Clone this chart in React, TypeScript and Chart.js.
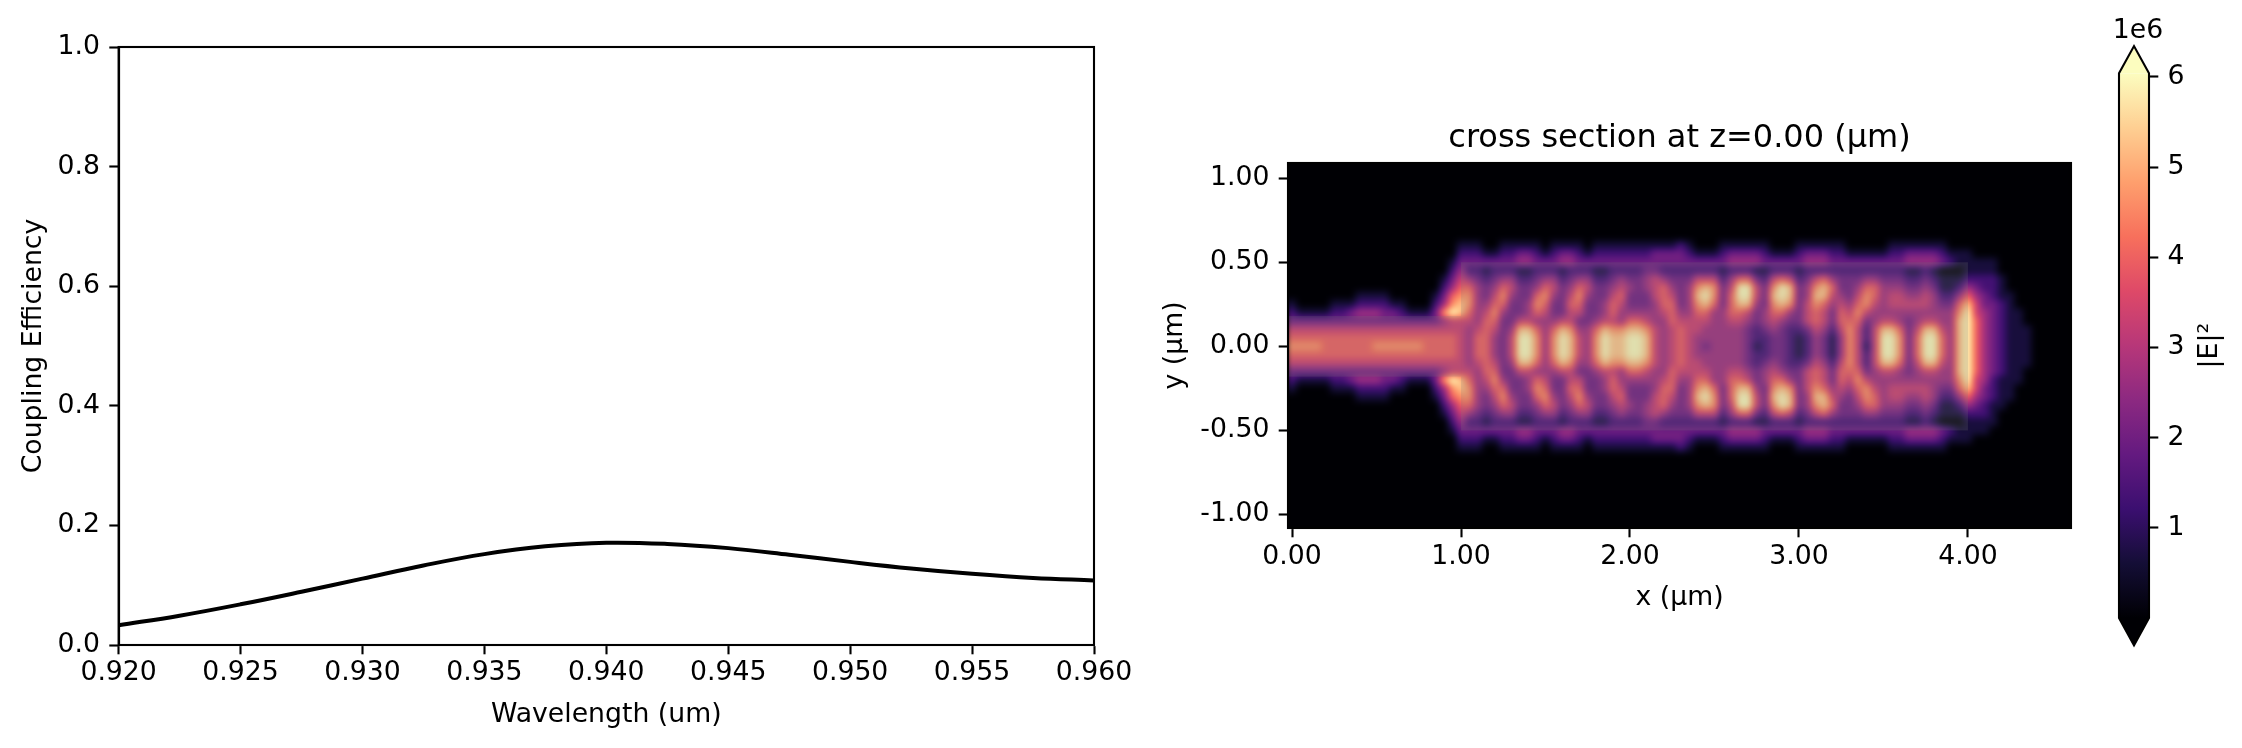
import { useEffect, useRef } from "react";
import { Chart, registerables } from "chart.js";

Chart.register(...registerables);

const FONT = "DejaVu Sans";
const TICK_PX = 26.7;
const TITLE_PX = 32;
const TICK_LEN = 9.3;
const SPINE_W = 2.1;

// coupling efficiency spectrum
const wavelengths = [
  0.92, 0.9225, 0.925, 0.9275, 0.93, 0.9325, 0.935, 0.9375, 0.94, 0.9425, 0.945, 0.9475, 0.95, 0.9525,
  0.955, 0.9575, 0.96,
];
const efficiency = [
  0.033, 0.049, 0.068, 0.089, 0.111, 0.133, 0.152, 0.165, 0.171, 0.169, 0.162, 0.151, 0.139, 0.128, 0.119,
  0.112, 0.108,
];
const wavelengthTicks = [0.92, 0.925, 0.93, 0.935, 0.94, 0.945, 0.95, 0.955, 0.96];
const efficiencyTicks = [0, 0.2, 0.4, 0.6, 0.8, 1.0];

// |E|^2 cross section, one string per x column (x = 0.00 .. 4.60 step 0.05 um).
// each string is centred on y = 0 (step 0.05 um), black (0) beyond its ends.
// one digit = 0.667e6
const fieldX0 = 0;
const fieldDX = 0.05;
const fieldDY = 0.05;
const fieldRows = 43;
const fieldUnit = 6e6 / 9;
const fieldColumns = [
  "12356765321",
  "135676531",
  "135676531",
  "135676531",
  "135666531",
  "12356665321",
  "12356665321",
  "13356665331",
  "1243566653421",
  "1243566653421",
  "1243567653421",
  "1233567653321",
  "13356765331",
  "12356765321",
  "135676531",
  "135676531",
  "135666531",
  "1233566653321",
  "12347456665474321",
  "123467955666559764321",
  "1234567885555555887654321",
  "1232467765444445677642321",
  "1232344444566654444432321",
  "13123345666666654332131",
  "13234567654445676543231",
  "1232467643333333467642321",
  "1232454333455543334542321",
  "1341233335899985333321431",
  "1341233445899985443321431",
  "1232346764677764676432321",
  "13246765444444456764231",
  "1232454334677764334542321",
  "1341233335899985333321431",
  "1342345655788875565432431",
  "1232467653455543567642321",
  "13245433344444333454231",
  "1231233334677764333321321",
  "1231233445899985443321321",
  "1232345665788875665432321",
  "1232456544788874456542321",
  "1232343346899986433432321",
  "1232333346899986433332321",
  "1233443345788875433443321",
  "1333555444555554445553331",
  "1332466654444444566642331",
  "1332345666555556665432331",
  "2332333345666665433332332",
  "1232344445555555444432321",
  "13257876554445567875231",
  "13258986544344568985231",
  "13257764444444446775231",
  "1231233344444444433321321",
  "1342456665444445666542431",
  "1342699865444445689962431",
  "1342699854333334589962431",
  "1341355433221223345531431",
  "1231233344322234433321321",
  "13257876543334567875231",
  "13269986433333468996231",
  "13258874322222347885231",
  "1231233333211123333321321",
  "1342344555322235554432431",
  "1342578766544456678752431",
  "1342688655433345568862431",
  "1232465433211123345642321",
  "1232334566544456654332321",
  "13233345677777654333231",
  "13234567655555676543231",
  "13246775322122357764231",
  "13246654455555445664231",
  "13234444589998544443231",
  "1232345545899985455432321",
  "1232345544677764455432321",
  "1341234543333333454321431",
  "1341234544566654454321431",
  "1342345545899985455432431",
  "1341234445899985444321431",
  "1230112344566654432110321",
  "12011234444444443211021",
  "11012467888888876421011",
  "11124689999999998642111",
  "112345566666665543211",
  "112233444444444332211",
  "11222333333333222111",
  "1112222222221111",
  "1111111111111",
  "111111111",
  "11111",
  "0",
  "0",
  "0",
  "0",
  "0",
  "0",
];
const fieldXTicks = [0, 1, 2, 3, 4];
const fieldYTicks = [-1, -0.5, 0, 0.5, 1];
const colorbarTicks = [1e6, 2e6, 3e6, 4e6, 5e6, 6e6];
const fieldVmin = 0;
const fieldVmax = 6.04e6;
const fieldTitle = "cross section at z=0.00 (μm)";

// structure drawn over the field (um)
const waveguide = { x0: -1, x1: 1, half: 0.18 };
const mmi = { x0: 1, x1: 4, half: 0.5 };

const MAGMA = [
  "#000004", "#140e36", "#3b0f70", "#641a80", "#8c2981", "#b73779",
  "#de4968", "#f7705c", "#fe9f6d", "#fecf92", "#fcfdbf",
];
const MAGMA_RGB = MAGMA.map((h) => [1, 3, 5].map((k) => parseInt(h.slice(k, k + 2), 16)));

function magma(t: number) {
  const c = Math.max(0, Math.min(1, t)) * (MAGMA_RGB.length - 1);
  const i = Math.min(MAGMA_RGB.length - 2, Math.floor(c));
  const u = c - i;
  return MAGMA_RGB[i].map((v, k) => Math.round(v + (MAGMA_RGB[i + 1][k] - v) * u));
}

const centred = (s: string) => {
  const pad = Math.floor((fieldRows - s.length) / 2);
  return ("0".repeat(pad) + s).padEnd(fieldRows, "0");
};

// values[i][j]: column i (x), row j (top to bottom)
const fieldValues = () => fieldColumns.map((s) => Array.from(centred(s), (ch) => Number(ch) * fieldUnit));

const tickFont = { family: FONT, size: TICK_PX };
const tickGrid = {
  drawOnChartArea: false,
  drawTicks: true,
  tickLength: TICK_LEN,
  tickWidth: SPINE_W,
  tickColor: "#000",
};
const spineBorder = { display: true, color: "#000", width: SPINE_W };

const framePlugin = {
  id: "frame",
  afterDraw(c: any) {
    const { ctx, chartArea: a } = c;
    ctx.save();
    ctx.strokeStyle = "#000";
    ctx.lineWidth = SPINE_W;
    ctx.strokeRect(a.left, a.top, a.right - a.left, a.bottom - a.top);
    ctx.restore();
  },
};

export default function App() {
  const lineRef = useRef<HTMLCanvasElement | null>(null);
  const fieldRef = useRef<HTMLCanvasElement | null>(null);
  const barRef = useRef<HTMLCanvasElement | null>(null);

  useEffect(() => {
    if (!lineRef.current || !fieldRef.current || !barRef.current) return;
    Chart.defaults.font.family = FONT;
    Chart.defaults.color = "#000";

    const spectrum = new Chart(lineRef.current, {
      type: "line",
      data: {
        datasets: [
          {
            data: wavelengths.map((w, i) => ({ x: w, y: efficiency[i] })),
            borderColor: "#000",
            borderWidth: 4,
            pointRadius: 0,
            tension: 0.4,
            fill: false,
          },
        ],
      },
      options: {
        animation: false,
        responsive: false,
        devicePixelRatio: 1,
        events: [],
        layout: { padding: { top: 47, right: 56, bottom: 0, left: 0 } },
        plugins: { legend: { display: false }, tooltip: { enabled: false } },
        scales: {
          x: {
            type: "linear",
            min: 0.92,
            max: 0.96,
            afterFit: (s: any) => {
              s.height = 103;
            },
            afterBuildTicks: (s: any) => {
              s.ticks = wavelengthTicks.map((value) => ({ value }));
            },
            ticks: {
              font: tickFont,
              color: "#000",
              padding: 3,
              autoSkip: false,
              maxRotation: 0,
              callback: (v: any) => Number(v).toFixed(3),
            },
            grid: tickGrid,
            border: spineBorder,
            title: {
              display: true,
              text: "Wavelength (um)",
              font: tickFont,
              color: "#000",
              padding: { top: 0, bottom: 17 },
            },
          },
          y: {
            type: "linear",
            min: 0,
            max: 1,
            afterFit: (s: any) => {
              s.width = 118.6;
            },
            afterBuildTicks: (s: any) => {
              s.ticks = efficiencyTicks.map((value) => ({ value }));
            },
            ticks: {
              font: tickFont,
              color: "#000",
              padding: TICK_LEN,
              callback: (v: any) => Number(v).toFixed(1),
            },
            grid: tickGrid,
            border: spineBorder,
            title: {
              display: true,
              text: "Coupling Efficiency",
              font: tickFont,
              color: "#000",
              padding: { top: 18, bottom: 0 },
            },
          },
        },
      },
      plugins: [framePlugin],
    } as any);

    const values = fieldValues();
    const fieldPlugin = {
      id: "fieldImage",
      beforeDatasetsDraw(c: any) {
        const { ctx, chartArea: a, scales } = c;
        const x = scales.x;
        const y = scales.y;
        const w = Math.round(a.right - a.left);
        const h = Math.round(a.bottom - a.top);
        const nC = values.length;
        const yTop = ((fieldRows - 1) / 2) * fieldDY;
        // fractional grid index for each pixel column / row
        const fi = Array.from({ length: w }, (_, p) => {
          const xv = x.getValueForPixel(a.left + p + 0.5);
          return Math.max(0, Math.min(nC - 1, (xv - fieldX0) / fieldDX));
        });
        const fj = Array.from({ length: h }, (_, p) => {
          const yv = y.getValueForPixel(a.top + p + 0.5);
          return Math.max(0, Math.min(fieldRows - 1, (yTop - yv) / fieldDY));
        });
        const off = document.createElement("canvas");
        off.width = w;
        off.height = h;
        const g = off.getContext("2d")!;
        const img = g.createImageData(w, h);
        for (let py = 0; py < h; py++) {
          const j0 = Math.floor(fj[py]);
          const j1 = Math.min(fieldRows - 1, j0 + 1);
          const v = fj[py] - j0;
          for (let px = 0; px < w; px++) {
            const i0 = Math.floor(fi[px]);
            const i1 = Math.min(nC - 1, i0 + 1);
            const u = fi[px] - i0;
            const val =
              (values[i0][j0] * (1 - u) + values[i1][j0] * u) * (1 - v) +
              (values[i0][j1] * (1 - u) + values[i1][j1] * u) * v;
            const [r, gg, b] = magma((val - fieldVmin) / (fieldVmax - fieldVmin));
            const o = (py * w + px) * 4;
            img.data[o] = r;
            img.data[o + 1] = gg;
            img.data[o + 2] = b;
            img.data[o + 3] = 255;
          }
        }
        g.putImageData(img, 0, 0);

        ctx.save();
        ctx.beginPath();
        ctx.rect(a.left, a.top, a.right - a.left, a.bottom - a.top);
        ctx.clip();
        ctx.fillStyle = MAGMA[0];
        ctx.fillRect(a.left, a.top, a.right - a.left, a.bottom - a.top);
        ctx.filter = "blur(2.5px)";
        ctx.drawImage(off, a.left, a.top);
        ctx.filter = "none";
        ctx.fillStyle = "rgba(125,125,125,0.21)";
        for (const s of [waveguide, mmi]) {
          const x0 = x.getPixelForValue(s.x0);
          const x1 = x.getPixelForValue(s.x1);
          const y0 = y.getPixelForValue(s.half);
          const y1 = y.getPixelForValue(-s.half);
          ctx.fillRect(x0, y0, x1 - x0, y1 - y0);
        }
        ctx.restore();
      },
      afterDraw(c: any) {
        const { ctx, chartArea: a } = c;
        ctx.save();
        ctx.fillStyle = "#000";
        ctx.font = `${TITLE_PX}px "${FONT}"`;
        ctx.textAlign = "center";
        ctx.textBaseline = "middle";
        ctx.fillText(fieldTitle, (a.left + a.right) / 2, a.top - 24);
        ctx.restore();
      },
    };

    const field = new Chart(fieldRef.current, {
      type: "scatter",
      data: { datasets: [] },
      options: {
        animation: false,
        responsive: false,
        devicePixelRatio: 1,
        events: [],
        layout: { padding: { top: 163, right: 9, bottom: 0, left: 0 } },
        plugins: { legend: { display: false }, tooltip: { enabled: false } },
        scales: {
          x: {
            type: "linear",
            min: -0.024,
            max: 4.61,
            afterFit: (s: any) => {
              s.height = 220;
            },
            afterBuildTicks: (s: any) => {
              s.ticks = fieldXTicks.map((value) => ({ value }));
            },
            ticks: {
              font: tickFont,
              color: "#000",
              padding: 4,
              autoSkip: false,
              maxRotation: 0,
              callback: (v: any) => Number(v).toFixed(2),
            },
            grid: tickGrid,
            border: spineBorder,
            title: {
              display: true,
              text: "x (μm)",
              font: tickFont,
              color: "#000",
              padding: { top: 0, bottom: 134 },
            },
          },
          y: {
            type: "linear",
            min: -1.08,
            max: 1.09,
            afterFit: (s: any) => {
              s.width = 148;
            },
            afterBuildTicks: (s: any) => {
              s.ticks = fieldYTicks.map((value) => ({ value }));
            },
            ticks: {
              font: tickFont,
              color: "#000",
              padding: TICK_LEN,
              callback: (v: any) => Number(v).toFixed(2),
            },
            grid: tickGrid,
            border: spineBorder,
            title: {
              display: true,
              text: "y (μm)",
              font: tickFont,
              color: "#000",
              padding: { top: 19, bottom: 0 },
            },
          },
        },
      },
      plugins: [fieldPlugin, framePlugin],
    } as any);

    const colorbarPlugin = {
      id: "colorbar",
      beforeDatasetsDraw(c: any) {
        const { ctx, chartArea: a, scales } = c;
        const y = scales.y;
        const y0 = y.getPixelForValue(fieldVmin);
        const y1 = y.getPixelForValue(fieldVmax);
        const ext = 0.05 * (y0 - y1);
        const mid = (a.left + a.right) / 2;
        ctx.save();
        const grad = ctx.createLinearGradient(0, y0, 0, y1);
        MAGMA.forEach((col, i) => grad.addColorStop(i / (MAGMA.length - 1), col));
        ctx.fillStyle = grad;
        ctx.fillRect(a.left, y1, a.right - a.left, y0 - y1);
        ctx.fillStyle = MAGMA[MAGMA.length - 1];
        ctx.beginPath();
        ctx.moveTo(a.left, y1);
        ctx.lineTo(mid, y1 - ext);
        ctx.lineTo(a.right, y1);
        ctx.closePath();
        ctx.fill();
        ctx.fillStyle = MAGMA[0];
        ctx.beginPath();
        ctx.moveTo(a.left, y0);
        ctx.lineTo(mid, y0 + ext);
        ctx.lineTo(a.right, y0);
        ctx.closePath();
        ctx.fill();

        ctx.strokeStyle = "#000";
        ctx.lineWidth = SPINE_W;
        ctx.lineJoin = "miter";
        ctx.beginPath();
        ctx.moveTo(a.left, y1);
        ctx.lineTo(mid, y1 - ext);
        ctx.lineTo(a.right, y1);
        ctx.lineTo(a.right, y0);
        ctx.lineTo(mid, y0 + ext);
        ctx.lineTo(a.left, y0);
        ctx.closePath();
        ctx.stroke();

        ctx.fillStyle = "#000";
        ctx.font = `${TICK_PX}px "${FONT}"`;
        ctx.textAlign = "center";
        ctx.textBaseline = "alphabetic";
        ctx.fillText("1e6", mid + 4, 38);

        ctx.translate(a.right + 61, (y0 + y1) / 2);
        ctx.rotate(-Math.PI / 2);
        ctx.textBaseline = "middle";
        ctx.fillText("|E|²", 0, 0);
        ctx.restore();
      },
    };

    const bar = new Chart(barRef.current, {
      type: "scatter",
      data: { datasets: [] },
      options: {
        animation: false,
        responsive: false,
        devicePixelRatio: 1,
        events: [],
        layout: { padding: { top: 73.3, right: 0, bottom: 130, left: 39 } },
        plugins: { legend: { display: false }, tooltip: { enabled: false } },
        scales: {
          x: { display: false, min: 0, max: 1 },
          y: {
            type: "linear",
            position: "right",
            min: fieldVmin,
            max: fieldVmax,
            afterFit: (s: any) => {
              s.width = 93;
            },
            afterBuildTicks: (s: any) => {
              s.ticks = colorbarTicks.map((value) => ({ value }));
            },
            ticks: {
              font: tickFont,
              color: "#000",
              padding: TICK_LEN,
              callback: (v: any) => String(Math.round(Number(v) / 1e6)),
            },
            grid: tickGrid,
            border: { display: false },
          },
        },
      },
      plugins: [colorbarPlugin],
    } as any);

    return () => {
      spectrum.destroy();
      field.destroy();
      bar.destroy();
    };
  }, []);

  return (
    <div style={{ position: "absolute", left: 0, top: 0, width: 2242, height: 748, background: "#fff" }}>
      <canvas ref={lineRef} width={1150} height={748} style={{ position: "absolute", left: 0, top: 0 }} />
      <canvas ref={fieldRef} width={940} height={748} style={{ position: "absolute", left: 1140, top: 0 }} />
      <canvas ref={barRef} width={162} height={748} style={{ position: "absolute", left: 2080, top: 0 }} />
    </div>
  );
}
